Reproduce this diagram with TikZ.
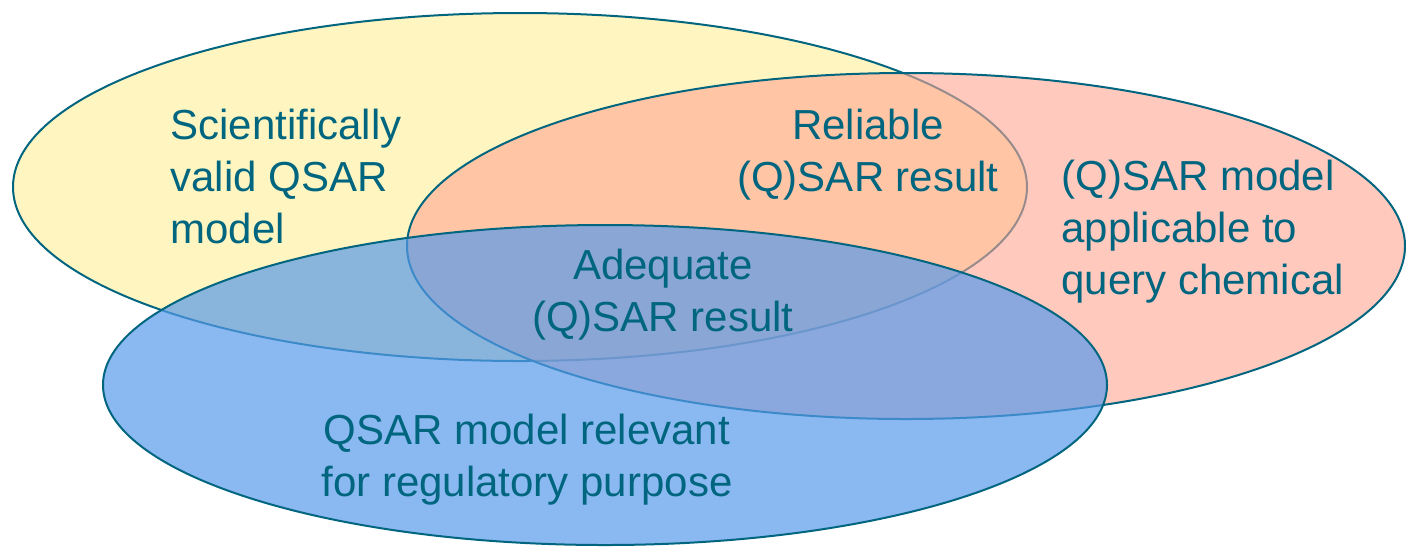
\documentclass[tikz,border=0pt]{standalone}
\usepackage{fontspec}
\setmainfont{Liberation Sans}
\usepackage{tikz}

\definecolor{rimteal}{RGB}{0,102,128}
\definecolor{validyellow}{RGB}{255,245,192}
\definecolor{applred}{RGB}{255,165,147}
\definecolor{relblue}{RGB}{88,154,234}

\begin{document}
\begin{tikzpicture}[x=0.5pt,y=0.5pt,yscale=-1,xscale=1,
  rim/.style={draw=rimteal,line width=1pt},
  lbl/.style={inner sep=0pt,text=rimteal,font=\fontsize{21}{25.8}\selectfont}]
\useasboundingbox (0,0) rectangle (1406,548);

%Shape: Ellipse
\filldraw [rim,fill=validyellow] (520,187) ellipse [x radius=507,y radius=174];
%Shape: Ellipse
\filldraw [rim,fill=applred,fill opacity=0.6] (906,246) ellipse [x radius=499,y radius=173];
%Shape: Ellipse
\filldraw [rim,fill=relblue,fill opacity=0.7] (605,385) ellipse [x radius=502,y radius=160];

% Text Node
\node (valid) [lbl,anchor=north west,align=left] at (170,109) {Scientifically\\valid QSAR\\model};
% Text Node
\node (reliable) [lbl,anchor=north,align=center] at (868,109) {Reliable\\(Q)SAR result};
% Text Node
\node (applic) [lbl,anchor=north west,align=left] at (1061,160) {(Q)SAR model\\applicable to\\query chemical};
% Text Node
\node (adequate) [lbl,anchor=north,align=center] at (663,249) {Adequate\\(Q)SAR result};
% Text Node
\node (relevant) [lbl,anchor=north,align=center] at (527,414) {QSAR model relevant\\for regulatory purpose};

\end{tikzpicture}
\end{document}
